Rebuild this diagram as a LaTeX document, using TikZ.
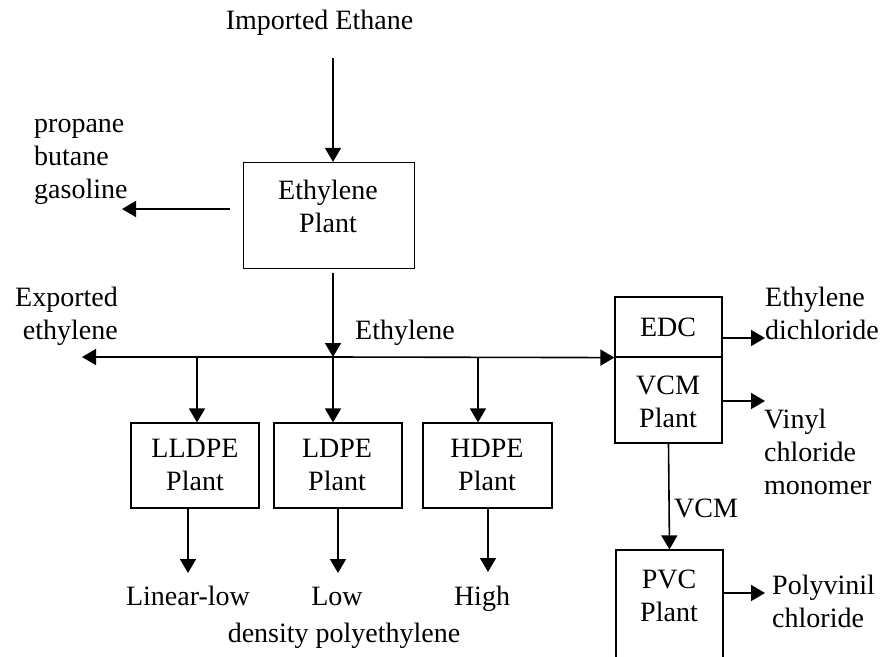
\documentclass[tikz,border=0pt]{standalone}
\usepackage{fontspec}
\setmainfont{Liberation Serif}
\usetikzlibrary{arrows.meta}
\begin{document}
\begin{tikzpicture}[x=1pt,y=-1pt,
  txt/.style={inner sep=0pt,font=\fontsize{28}{33}\selectfont},
  box/.style={draw,line width=1.2pt,inner sep=0pt},
  arr/.style={line width=1.6pt,-{Triangle[length=14pt,width=16pt]}}]
\useasboundingbox (0,0) rectangle (888,656);
% boxes
\node[box,minimum width=171pt,minimum height=106pt] (eth) at (329,215.5) {};
\node[box,minimum width=128pt,minimum height=85pt] (lldpe) at (195,465.5) {};
\node[box,minimum width=128pt,minimum height=85pt] (ldpe) at (338,465.5) {};
\node[box,minimum width=129pt,minimum height=85pt] (hdpe) at (487.5,465.5) {};
\node[box,minimum width=107pt,minimum height=60pt] (edc) at (668.5,327) {};
\node[box,minimum width=107pt,minimum height=86pt] (vcm) at (668.5,400) {};
\node[box,minimum width=107pt,minimum height=120pt] (pvc) at (669.5,610) {};
% box texts
\node[txt,align=center] (ethT) at (328,206) {Ethylene\\Plant};
\node[txt,align=center] (lldpeT) at (195,465) {LLDPE\\Plant};
\node[txt,align=center] (ldpeT) at (337,465) {LDPE\\Plant};
\node[txt,align=center] (hdpeT) at (487,465) {HDPE\\Plant};
\node[txt] (edcT) at (668,327) {EDC};
\node[txt,align=center] (vcmT) at (668,402) {VCM\\Plant};
\node[txt,align=center] (pvcT) at (669,596) {PVC\\Plant};
% free texts
\node[txt,anchor=base] (imp) at (319.5,29) {Imported Ethane};
\node[txt,align=left,anchor=west] (side) at (34,162) {propane\\butane\\gasoline};
\node[txt,align=right,anchor=east] (exp) at (118,316) {Exported\\ethylene};
\node[txt] (ethl) at (405,333) {Ethylene};
\node[txt,align=left,anchor=west] (edT) at (765,313) {Ethylene\\dichloride};
\node[txt,align=left,anchor=west] (vT) at (764,452) {Vinyl\\chloride\\monomer};
\node[txt,align=left,anchor=west] (pT) at (772,601) {Polyvinil\\chloride};
\node[txt] (vcml) at (706,508) {VCM};
\node[txt,anchor=base] (lin) at (188,605) {Linear-low};
\node[txt,anchor=base] (low) at (337,605) {Low};
\node[txt,anchor=base] (high) at (482,605) {High};
\node[txt,anchor=base] (dens) at (344,642) {density polyethylene};
% coordinates
\coordinate (impS) at (333,58);
\coordinate (sideS) at (230,209);
\coordinate (sideE) at (122,209);
\coordinate (ethO) at (333,273);
\coordinate (J) at (333,357);
\coordinate (expE) at (82,357);
\coordinate (b1) at (197,357);
\coordinate (b3) at (478,357);
\coordinate (linE) at (188,573);
\coordinate (lowE) at (338,573);
\coordinate (highE) at (488,572);
\coordinate (edE) at (765,338);
\coordinate (vE) at (765,401);
\coordinate (pE) at (765,593);
% connectors
\draw[arr] (impS) -- (impS |- eth.north);
\draw[arr] (sideS) -- (sideE);
\draw[arr] (ethO) -- (J);
\draw[arr] (J) -- (expE);
\draw[arr] (J) -- (edc.south west);
\draw[arr] (b1) -- (b1 |- lldpe.north);
\draw[arr] (J) -- (J |- ldpe.north);
\draw[arr] (b3) -- (b3 |- hdpe.north);
\draw[arr] (linE |- lldpe.south) -- (linE);
\draw[arr] (lowE |- ldpe.south) -- (lowE);
\draw[arr] (highE |- hdpe.south) -- (highE);
\draw[arr] (edc.east |- edE) -- (edE);
\draw[arr] (vcm.east |- vE) -- (vE);
\draw[arr] (pvc.east |- pE) -- (pE);
\draw[arr] (vcm.south) -- (pvc.north);
\end{tikzpicture}
\end{document}
